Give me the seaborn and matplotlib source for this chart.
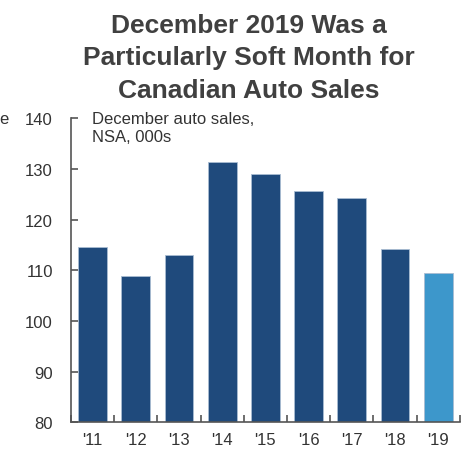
import pandas as pd
import matplotlib.pyplot as plt
import seaborn as sns

# December auto sales, NSA, thousands
years = ["'11", "'12", "'13", "'14", "'15", "'16", "'17", "'18", "'19"]
sales = [114.6, 108.9, 113.1, 131.4, 129.0, 125.7, 124.3, 114.3, 109.5]
bar_colors = ["#1f4a7c"] * 8 + ["#3d97cb"]

y_ticks = [80, 90, 100, 110, 120, 130, 140]

df = pd.DataFrame({"year": years, "sales": sales})

sns.set_style("white")
plt.rcParams["font.family"] = ["Liberation Sans", "DejaVu Sans"]

fig = plt.figure(figsize=(4.64, 4.52), dpi=100)
ax = fig.add_axes([0.153, 0.0635, 0.838, 0.6725])

sns.barplot(data=df, x="year", y="sales", hue="year", palette=bar_colors,
            saturation=1, legend=False, width=0.67, edgecolor="#a9bcd2",
            linewidth=0.6, ax=ax)

ax.set_ylim(80, 140)
ax.set_xlim(-0.5, 8.5)
ax.set_yticks(y_ticks)
ax.set_xlabel("")
ax.set_ylabel("")

for side in ["top", "right"]:
    ax.spines[side].set_visible(False)
for side in ["left", "bottom"]:
    ax.spines[side].set_color("#555555")
    ax.spines[side].set_linewidth(1.2)

ax.tick_params(axis="y", direction="in", length=5, width=1.2, color="#555555",
               labelsize=12, labelcolor="#333333", pad=13, left=True)
ax.tick_params(axis="x", which="major", length=0, labelsize=12,
               labelcolor="#333333", pad=7)
ax.set_xticks([i - 0.5 for i in range(10)], minor=True)
ax.tick_params(axis="x", which="minor", direction="in", length=5, width=1.2,
               color="#555555", bottom=True)

fig.text(0.198, 0.752, "December auto sales,\nNSA, 000s", fontsize=12,
         color="#333333", va="top", ha="left", linespacing=1.25)

fig.text(0.537, 0.97, "December 2019 Was a\nParticularly Soft Month for\nCanadian Auto Sales",
         fontsize=19, fontweight="bold", color="#404040", ha="center", va="top",
         linespacing=1.47)

# cut-off text from the neighbouring panel
fig.text(0.018, 0.735, "e", fontsize=12, color="#333333", ha="right", va="center")

fig.savefig("out.png", dpi=100)
